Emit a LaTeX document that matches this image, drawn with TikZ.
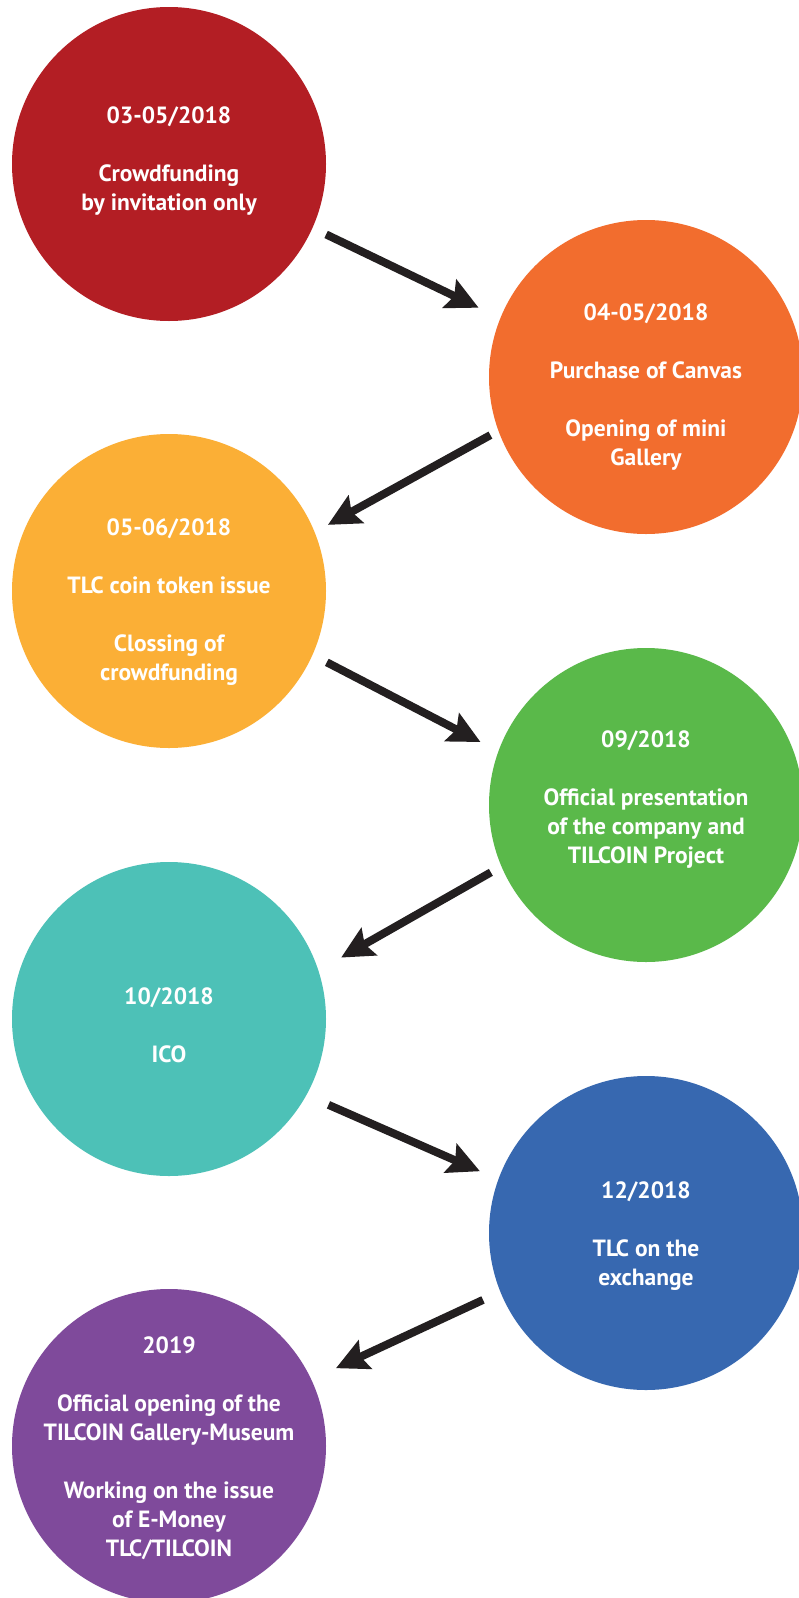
\documentclass[tikz,border=0pt]{standalone}
\usepackage{fontspec}
\setmainfont{PT Sans}
\usetikzlibrary{arrows.meta}
\definecolor{cred}{HTML}{B31E24}
\definecolor{corange}{HTML}{F26D2E}
\definecolor{cyellow}{HTML}{FBAF36}
\definecolor{cgreen}{HTML}{5AB94A}
\definecolor{cteal}{HTML}{4DC1B7}
\definecolor{cblue}{HTML}{3768B0}
\definecolor{cpurple}{HTML}{7F4A9B}
\definecolor{carrow}{HTML}{231F20}
\tikzset{
  disc/.style={circle, minimum size=314pt, inner sep=0pt},
  label text/.style={text=white, align=center, inner sep=0pt,
    font=\fontsize{23.5}{29}\selectfont\bfseries},
  arr/.style={draw=carrow, line width=8pt, -{Stealth[length=32pt,width=31pt,inset=5pt]}}
}
\begin{document}
\begin{tikzpicture}[x=1pt,y=1pt]
\useasboundingbox[fill=white] (0,0) rectangle (799,-1598);
\node[disc, fill=cred] (c1) at (169,-164) {};
\node[disc, fill=corange] (c2) at (646,-377) {};
\node[disc, fill=cyellow] (c3) at (169,-591) {};
\node[disc, fill=cgreen] (c4) at (646,-805) {};
\node[disc, fill=cteal] (c5) at (169,-1019) {};
\node[disc, fill=cblue] (c6) at (646,-1233) {};
\node[disc, fill=cpurple] (c7) at (169,-1446) {};
\node[label text, yshift=2.5pt] (t1) at (c1) {03-05/2018\\[29pt]Crowdfunding\\by invitation only};
\node[label text, yshift=-10pt] (t2) at (c2) {04-05/2018\\[29pt]Purchase of Canvas\\[29pt]Opening of mini\\Gallery};
\node[label text, yshift=-11pt] (t3) at (c3) {05-06/2018\\[29pt]TLC coin token issue\\[29pt]Clossing of\\crowdfunding};
\node[label text, yshift=5pt] (t4) at (c4) {09/2018\\[29pt]Official presentation\\of the company and\\TILCOIN Project};
\node[label text, yshift=-6.5pt] (t5) at (c5) {10/2018\\[29pt]ICO};
\node[label text, yshift=-3.5pt] (t6) at (c6) {12/2018\\[29pt]TLC on the\\exchange};
\node[label text, yshift=-2pt] (t7) at (c7) {2019\\[29pt]Official opening of the\\TILCOIN Gallery-Museum\\[29pt]Working on the issue\\of E-Money\\TLC/TILCOIN};
\draw[arr, shorten <=15pt, shorten >=24pt] (c1.-24) -- (c2.158.7);
\draw[arr, shorten <=9pt, shorten >=15pt] (c2.200.8) -- (c3.22.5);
\draw[arr, shorten <=16pt, shorten >=20pt] (c3.-24.9) -- (c4.160.8);
\draw[arr, shorten <=12pt, shorten >=26pt] (c4.203.7) -- (c5.18.4);
\draw[arr, shorten <=24pt, shorten >=20pt] (c5.-29.8) -- (c6.160.8);
\draw[arr, shorten <=19pt, shorten >=27pt] (c6.202.3) -- (c7.25);
\end{tikzpicture}
\end{document}
